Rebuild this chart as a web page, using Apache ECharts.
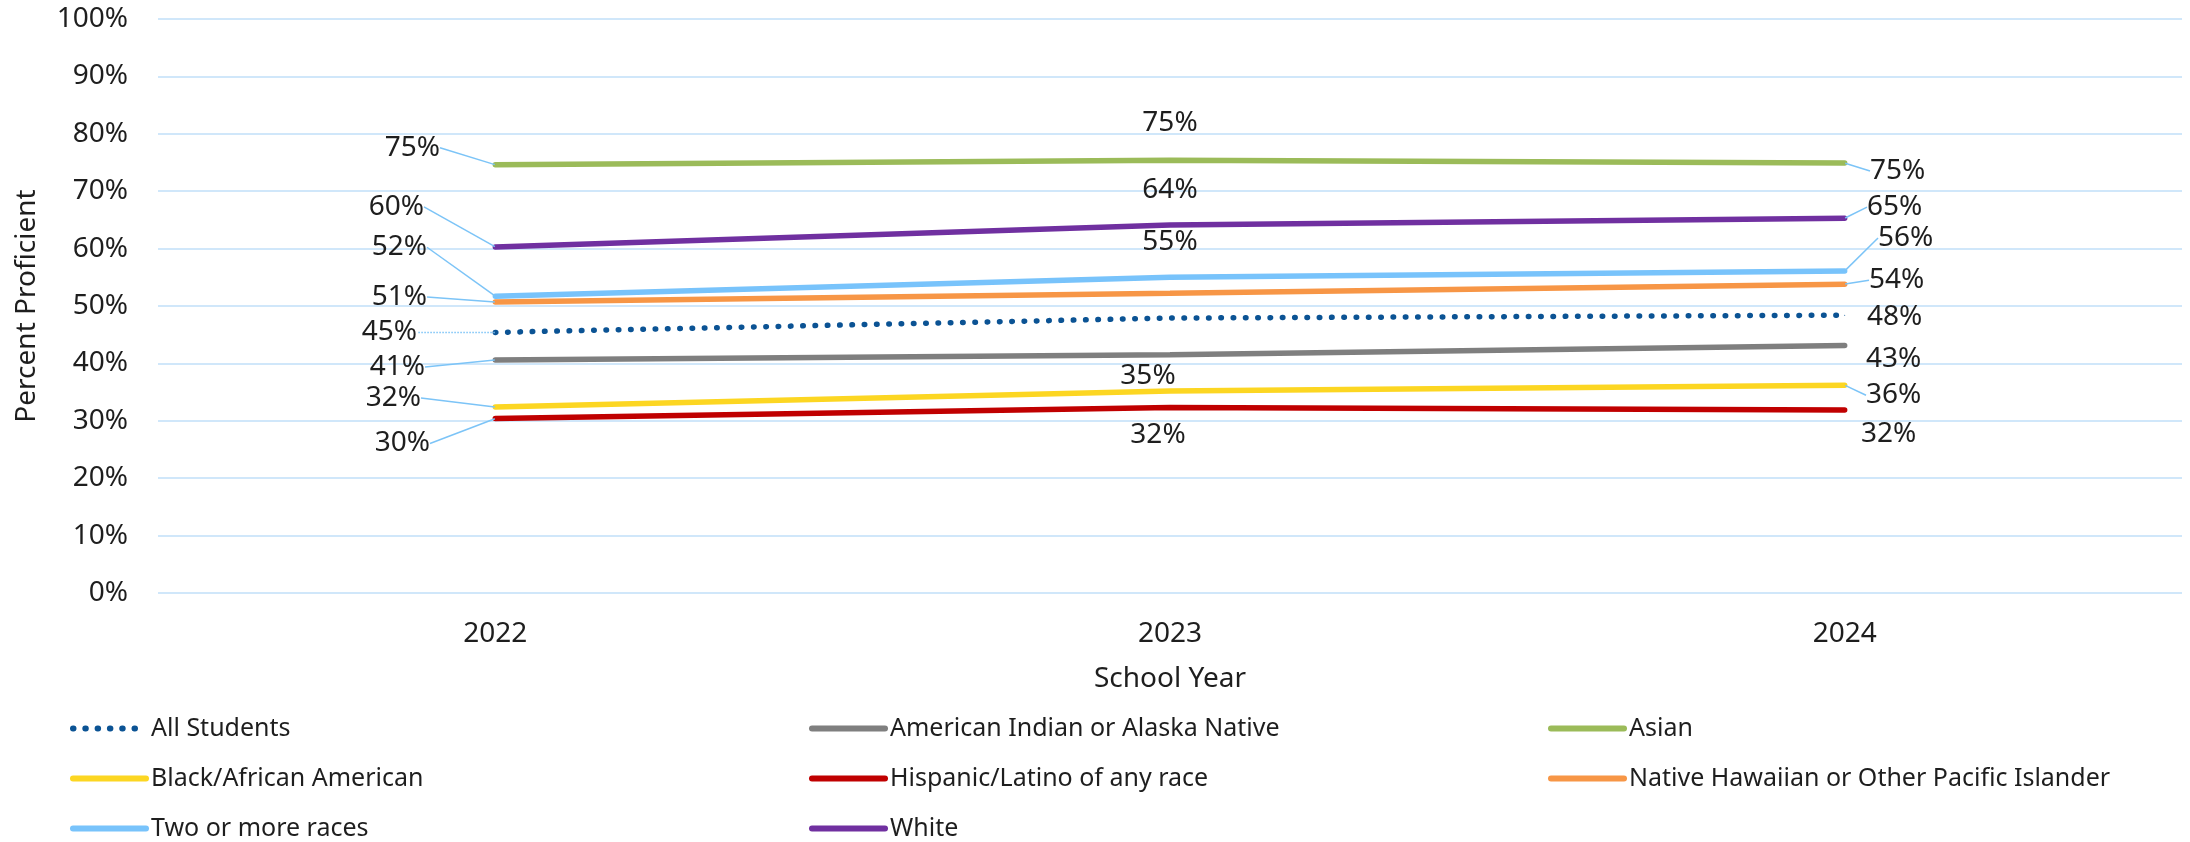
<!DOCTYPE html>
<html>
<head>
<meta charset="utf-8">
<script src="https://cdn.jsdelivr.net/npm/echarts@6/dist/echarts.min.js"></script>
<style>
html,body{margin:0;padding:0;background:#fff;}
#chart{width:2190px;height:842px;}
</style>
</head>
<body>
<div id="chart"></div>
<script>
// ---- data ----
const years = ['2022', '2023', '2024'];
const yTicks = [0, 10, 20, 30, 40, 50, 60, 70, 80, 90, 100];

const allStudents     = [45.4, 47.9, 48.4];
const aian            = [40.6, 41.5, 43.1];
const asian           = [74.6, 75.4, 74.9];
const black           = [32.4, 35.2, 36.2];
const hispanic        = [30.4, 32.3, 31.9];
const nhpi            = [50.7, 52.2, 53.8];
const twoOrMore       = [51.7, 55.0, 56.1];
const white           = [60.3, 64.1, 65.3];

const seriesNames = [
  'All Students',
  'American Indian or Alaska Native',
  'Asian',
  'Black/African American',
  'Hispanic/Latino of any race',
  'Native Hawaiian or Other Pacific Islander',
  'Two or more races',
  'White'
];
const seriesValues = [allStudents, aian, asian, black, hispanic, nhpi, twoOrMore, white];

// which points carry a data label (per series, per year)
const labelShown = [
  [true, false, true],
  [true, false, true],
  [true, true, true],
  [true, true, true],
  [true, true, true],
  [true, false, true],
  [true, true, true],
  [true, true, true]
];
// ---- styling / layout (not data) ----
const colors = ['#0b5394', '#7f7f7f', '#9bbb59', '#fcd622', '#c00000', '#f79646', '#78c3fb', '#7030a0'];
const leaderShown = [
  [true, false, false],
  [true, false, false],
  [true, false, true],
  [true, false, true],
  [true, false, false],
  [true, false, true],
  [true, false, true],
  [true, false, true]
];
const labelOffsets = [
  [[-106, 0], [0, 0], [50, 2]],
  [[-98, 7], [0, 0], [49, 13]],
  [[-83, -17], [0, -37], [53, 8]],
  [[-102, -9], [-22, -15], [49, 10]],
  [[-93, 25], [-12, 27], [44, 24]],
  [[-96, -5], [0, 0], [52, -4]],
  [[-96, -49], [0, -35], [61, -33]],
  [[-99, -40], [0, -35], [50, -11]]
];

const FONT = 'Noto Sans';
const TEXT = '#1e1e1e';
const LEADER = '#7cc4f7';

const chart = echarts.init(document.getElementById('chart'), null, {renderer: 'canvas'});

const series = seriesNames.map((name, si) => ({
  name: name,
  type: 'line',
  data: seriesValues[si].map((v, i) => ({
    value: v,
    label: {show: labelShown[si][i]},
    labelLine: {show: labelShown[si][i] && leaderShown[si][i]}
  })),
  symbol: 'circle',
  symbolSize: 1,
  showSymbol: true,
  itemStyle: {color: colors[si]},
  lineStyle: si === 0
    ? {color: colors[si], width: 5.5, type: [0.5, 11.8], cap: 'round'}
    : {color: colors[si], width: 5.5, cap: 'round'},
  label: {
    show: true,
    position: 'inside',
    fontFamily: FONT,
    fontSize: 28,
    color: TEXT,
    formatter: p => Math.round(p.value) + '%'
  },
  labelLine: {
    show: true,
    lineStyle: si === 0
      ? {color: LEADER, width: 1.5, type: [1.5, 1.5]}
      : {color: LEADER, width: 1.5}
  },
  labelLayout: function (params) {
    const o = labelOffsets[si][params.dataIndex];
    return {dx: o[0], dy: o[1]};
  },
  emphasis: {disabled: true},
  animation: false,
  z: 2 + si
}));

const legendCols = [
  [seriesNames[0], seriesNames[3], seriesNames[6]],
  [seriesNames[1], seriesNames[4], seriesNames[7]],
  [seriesNames[2], seriesNames[5]]
];
const legendLefts = [70, 809, 1548];
const legends = legendCols.map((col, ci) => ({
  data: col,
  orient: 'vertical',
  left: legendLefts[ci],
  top: 716,
  height: 200,
  padding: 0,
  itemGap: 25,
  itemWidth: 73,
  itemHeight: 8,
  itemStyle: {opacity: 0},
  lineStyle: {width: 6, cap: 'round'},
  selectedMode: false,
  textStyle: {fontFamily: FONT, fontSize: 25, color: TEXT, lineHeight: 22, padding: [0, 0, 0, 0]}
}));

chart.setOption({
  backgroundColor: '#ffffff',
  animation: false,
  color: colors,
  grid: {left: 158, right: 8, top: 19, bottom: 249, containLabel: false},
  legend: legends,
  xAxis: {
    type: 'category',
    data: years,
    boundaryGap: true,
    axisLine: {show: false},
    axisTick: {show: false},
    axisLabel: {fontFamily: FONT, fontSize: 28, color: TEXT, margin: 27},
    name: 'School Year',
    nameLocation: 'middle',
    nameGap: 72,
    nameTextStyle: {fontFamily: FONT, fontSize: 28, color: TEXT}
  },
  yAxis: {
    type: 'value',
    min: yTicks[0],
    max: yTicks[yTicks.length - 1],
    interval: yTicks[1] - yTicks[0],
    axisLine: {show: false},
    axisTick: {show: false},
    splitLine: {show: true, lineStyle: {color: '#d0e7fa', width: 2}},
    axisLabel: {fontFamily: FONT, fontSize: 28, color: TEXT, margin: 30, formatter: v => v + '%'},
    name: 'Percent Proficient',
    nameLocation: 'middle',
    nameGap: 117,
    nameTextStyle: {fontFamily: FONT, fontSize: 28, color: TEXT}
  },
  series: series
});
</script>
</body>
</html>
